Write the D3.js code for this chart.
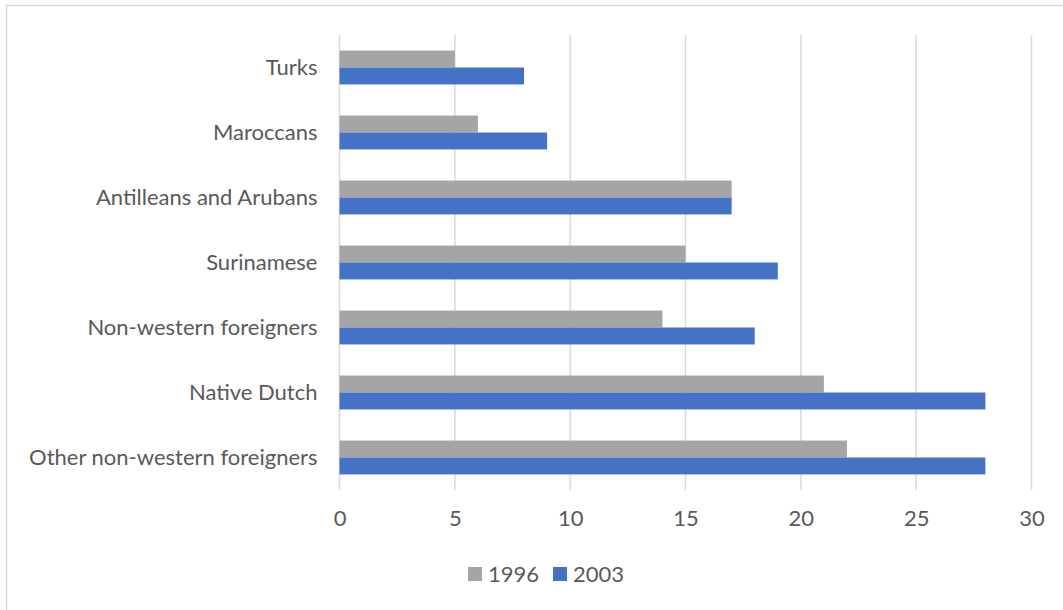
<!DOCTYPE html>
<html>
<head>
<meta charset="utf-8">
<script src="https://cdn.jsdelivr.net/npm/d3@7"></script>
<style>
    body { margin: 0; background: #fff; }
    svg text { font-family: Lato, "Open Sans", sans-serif; fill: #595959; }
</style>
</head>
<body>
<svg id="chart" width="1063" height="610"></svg>
<script>
// categories, top to bottom
var categories = ["Turks", "Maroccans", "Antilleans and Arubans", "Surinamese",
    "Non-western foreigners", "Native Dutch", "Other non-western foreigners"];
var years = ["1996", "2003"];
var values1996 = [5, 6, 17, 15, 14, 21, 22];
var values2003 = [8, 9, 17, 19, 18, 28, 28];
var xTicks = [0, 5, 10, 15, 20, 25, 30];

var colors = { "1996": "#a5a5a5", "2003": "#4472c4" };
var fontSize = "22px";

var svg = d3.select("#chart");
var margin = { left: 339.5, right: 31.5, top: 35, bottom: 120 };
var width = 1063, height = 610;

// outer chart border (right and bottom fall outside the picture)
svg.append("rect")
    .attr("x", 6.5).attr("y", 5.5)
    .attr("width", 1070).attr("height", 620)
    .attr("fill", "none")
    .attr("stroke", "#d9d9d9")
    .attr("stroke-width", 1.5);

var x = d3.scaleLinear()
    .domain([0, 30])
    .range([margin.left, width - margin.right]);

var y = d3.scaleBand()
    .domain(categories)
    .range([margin.top, height - margin.bottom]);

var inner = d3.scaleBand()
    .domain(years)
    .range([0, y.bandwidth()])
    .paddingOuter(0.92)
    .paddingInner(0);

// gridlines
svg.append("g")
    .selectAll("line")
    .data(xTicks)
    .enter()
    .append("line")
    .attr("x1", function (d) { return x(d); })
    .attr("x2", function (d) { return x(d); })
    .attr("y1", margin.top)
    .attr("y2", height - margin.bottom)
    .attr("stroke", "#d9d9d9")
    .attr("stroke-width", 1.5);

// x axis labels
var xAxis = d3.axisBottom(x).tickValues(xTicks).tickSize(0).tickPadding(20);
var xg = svg.append("g")
    .attr("transform", "translate(0," + (height - margin.bottom) + ")")
    .call(xAxis);
xg.select(".domain").remove();
xg.attr("font-family", null);
xg.selectAll("text")
    .style("font-size", fontSize)
    .attr("fill", null);

// y axis labels
var yAxis = d3.axisLeft(y).tickSize(0).tickPadding(22);
var yg = svg.append("g")
    .attr("transform", "translate(" + margin.left + ",0)")
    .call(yAxis);
yg.select(".domain").remove();
yg.attr("font-family", null);
yg.selectAll("text")
    .style("font-size", fontSize)
    .attr("fill", null)
    .attr("dy", "0.35em");

// bars
var series = [
    { year: "1996", values: values1996 },
    { year: "2003", values: values2003 }
];

series.forEach(function (s) {
    svg.append("g")
        .selectAll("rect")
        .data(s.values)
        .enter()
        .append("rect")
        .attr("x", x(0))
        .attr("y", function (d, i) { return y(categories[i]) + inner(s.year); })
        .attr("width", function (d) { return x(d) - x(0); })
        .attr("height", inner.bandwidth())
        .attr("fill", colors[s.year]);
});

// legend
var legend = svg.append("g").attr("transform", "translate(468,567)");
var legendItems = legend.selectAll("g")
    .data(years)
    .enter()
    .append("g")
    .attr("transform", function (d, i) { return "translate(" + (i * 85) + ",0)"; });
legendItems.append("rect")
    .attr("width", 14).attr("height", 14)
    .attr("fill", function (d) { return colors[d]; });
legendItems.append("text")
    .attr("x", 20).attr("y", 7)
    .attr("dy", "0.35em")
    .style("font-size", fontSize)
    .text(function (d) { return d; });
</script>
</body>
</html>
